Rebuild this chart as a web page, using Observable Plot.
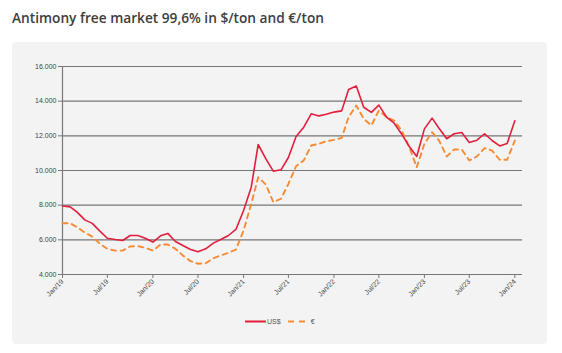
<!DOCTYPE html>
<html>
<head>
<meta charset="utf-8">
<script src="https://cdn.jsdelivr.net/npm/d3@7"></script>
<script src="https://cdn.jsdelivr.net/npm/@observablehq/plot@0.6"></script>
<style>
  html, body { margin: 0; padding: 0; background: #ffffff; width: 562px; height: 353px; overflow: hidden; }
  #title { position: absolute; left: 12px; top: 8px; font-family: "Open Sans", Lato, sans-serif; font-weight: 600; font-size: 13.7px; color: #3d3d3f; white-space: nowrap; }
  #panel { position: absolute; left: 12px; top: 42px; width: 535px; height: 302px; background: #f2f3f2; border-radius: 4px; }
  #chart { position: absolute; left: 0; top: 42px; }
  #legend { position: absolute; left: 245px; top: 316px; font-family: "Liberation Sans", Arial, sans-serif; font-size: 7px; color: #555; display: flex; align-items: center; white-space: nowrap; }
  #legend svg { display: block; }
</style>
</head>
<body>
<div id="title">Antimony free market 99,6% in $/ton and €/ton</div>
<div id="panel"></div>
<div id="chart"></div>
<div id="legend">
  <svg width="21" height="10"><line x1="0" y1="5.5" x2="21" y2="5.5" stroke="#e31e3c" stroke-width="2"/></svg>
  <span style="margin-left:1px">US$</span>
  <svg width="21" height="10" style="margin-left:7px"><line x1="0" y1="5.5" x2="19" y2="5.5" stroke="#f68b33" stroke-width="2" stroke-dasharray="6,5"/></svg>
  <span style="margin-left:2px">€</span>
</div>
<script>
// Monthly series, Jan/19 .. Jan/24
const startMonth = "2019-01-01";
const usd = [
  7950, 7900, 7600, 7150, 6950, 6500, 6090, 6020, 5960, 6250, 6250, 6090,
  5870, 6230, 6370, 5900, 5670, 5440, 5310, 5480, 5810, 6020, 6250, 6600,
  7690, 9040, 11500, 10670, 9960, 10040, 10750, 11960, 12500, 13270, 13150, 13250,
  13370, 13440, 14670, 14870, 13650, 13350, 13770, 13080, 12730, 12110, 11380, 10810,
  12400, 13020, 12440, 11830, 12120, 12190, 11620, 11750, 12120, 11730, 11420, 11560,
  12870
];
const eur = [
  6960, 6960, 6730, 6420, 6190, 5770, 5480, 5380, 5380, 5620, 5640, 5540,
  5380, 5730, 5730, 5480, 5100, 4770, 4620, 4650, 4940, 5100, 5250, 5440,
  6540, 8080, 9610, 9190, 8170, 8370, 9230, 10250, 10580, 11440, 11540, 11690,
  11770, 11880, 13080, 13750, 12980, 12600, 13460, 13080, 12880, 12310, 11350, 10190,
  11540, 12210, 11730, 10810, 11210, 11210, 10580, 10810, 11290, 11150, 10620, 10620,
  11730
];
const yTicks = [4000, 6000, 8000, 10000, 12000, 14000, 16000];
const xDomain = ["2019-01-01", "2024-02-01"];

const start = new Date(startMonth);
const months = usd.map((_, i) => d3.utcMonth.offset(start, i));
const usdData = usd.map((v, i) => ({date: months[i], value: v}));
const eurData = eur.map((v, i) => ({date: months[i], value: v}));
const fmtY = d => d3.format(",")(d).replace(/,/g, ".");
const fmtX = d3.utcFormat("%b/%y");
const gridColor = "#777777";

const chart = Plot.plot({
  width: 562,
  height: 270,
  marginLeft: 62,
  marginRight: 40,
  marginTop: 24,
  marginBottom: 38,
  style: {background: "transparent", fontFamily: "'Liberation Sans', Arial, sans-serif", fontSize: "7px", color: "#444"},
  x: {type: "utc", domain: xDomain.map(d => new Date(d))},
  y: {domain: [4000, 16000]},
  marks: [
    Plot.gridY(yTicks, {stroke: gridColor, strokeOpacity: 1, strokeWidth: 1.2}),
    Plot.ruleX([new Date(xDomain[0])], {stroke: gridColor, strokeWidth: 1.2}),
    Plot.axisY({ticks: yTicks, tickFormat: fmtY, tickSize: 4, tickPadding: 2, stroke: gridColor, label: null}),
    Plot.axisX({ticks: d3.utcMonth.every(6), tickFormat: fmtX, tickRotate: -45, tickSize: 4, tickPadding: 2, stroke: gridColor, label: null}),
    Plot.lineY(eurData, {x: "date", y: "value", stroke: "#f68b33", strokeWidth: 1.9, strokeDasharray: "5,4.5", curve: "linear"}),
    Plot.lineY(usdData, {x: "date", y: "value", stroke: "#e31e3c", strokeWidth: 1.6, curve: "linear"})
  ]
});
document.getElementById("chart").appendChild(chart);
</script>
</body>
</html>
